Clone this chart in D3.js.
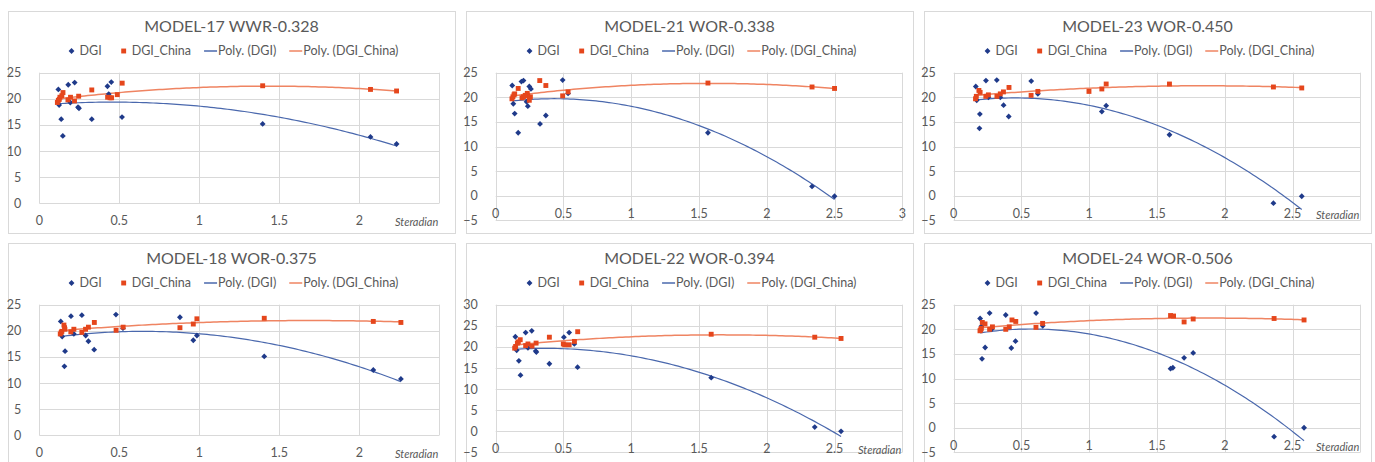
<!DOCTYPE html>
<html>
<head>
<meta charset="utf-8">
<script src="https://cdn.jsdelivr.net/npm/d3@7"></script>
<style>
  html, body { margin: 0; padding: 0; background: #fff; }
  svg { display: block; font-family: Lato, "Open Sans", sans-serif; }
</style>
</head>
<body>
<svg id="chart" width="1375" height="462"></svg>
<script>
// Daylight glare index against sky view (steradian), per model
const panelTitles = [
  "MODEL-17 WWR-0.328", "MODEL-21 WOR-0.338", "MODEL-23 WOR-0.450",
  "MODEL-18 WOR-0.375", "MODEL-22 WOR-0.394", "MODEL-24 WOR-0.506"
];
const xMaxes = [2.5, 3, 3, 2.5, 3, 3];
const yRanges = [[0, 25], [-5, 25], [-5, 25], [0, 25], [-5, 30], [-5, 25]];
const showAxisTitle = [true, false, true, true, true, true];
const seriesNames = ["DGI", "DGI_China", "Poly. (DGI)", "Poly. (DGI_China)"];
const axisTitle = "Steradian";

// [steradian, DGI]
const m17Dgi = [[0.119,21.8],[0.124,18.8],[0.137,16.1],[0.147,12.9],[0.181,22.7],[0.194,19.3],[0.221,23.1],[0.242,18.4],[0.248,18.2],[0.328,16.1],[0.426,22.4],[0.434,20.9],[0.45,23.2],[0.517,16.5],[1.396,15.2],[2.07,12.7],[2.233,11.35]];
const m17China = [[0.113,19.3],[0.119,19.7],[0.125,19.9],[0.129,20.3],[0.141,20.6],[0.148,21.2],[0.179,19.8],[0.195,20.3],[0.22,19.6],[0.246,20.5],[0.328,21.7],[0.427,20.3],[0.442,20.2],[0.452,20.2],[0.4875,20.8],[0.518,23.0],[1.396,22.5],[2.07,21.8],[2.233,21.5]];

const m21Dgi = [[0.122,22.4],[0.13,18.7],[0.14,16.7],[0.166,12.8],[0.19,23.2],[0.205,23.4],[0.228,19.1],[0.237,18.2],[0.248,22.2],[0.26,21.7],[0.327,14.6],[0.37,16.3],[0.494,23.5],[0.534,20.8],[1.566,12.8],[2.334,1.9],[2.5,-0.1]];
const m21China = [[0.12,19.7],[0.127,20.1],[0.135,20.5],[0.14,20.7],[0.166,21.8],[0.194,19.9],[0.205,20.1],[0.218,20.4],[0.233,20.8],[0.236,20.3],[0.248,19.4],[0.256,20.1],[0.325,23.4],[0.37,22.4],[0.494,20.3],[0.534,21.1],[1.566,22.9],[2.334,22.1],[2.5,21.8]];

const m23Dgi = [[0.163,22.2],[0.17,19.4],[0.193,16.6],[0.19,13.7],[0.238,23.4],[0.256,20.0],[0.318,23.5],[0.344,20.0],[0.368,18.4],[0.406,16.1],[0.572,23.3],[0.621,20.7],[1.093,17.1],[1.125,18.3],[1.592,12.4],[2.359,-1.5],[2.568,-0.1]];
const m23China = [[0.161,19.7],[0.167,20.2],[0.186,21.4],[0.195,21.0],[0.237,20.2],[0.256,20.5],[0.319,20.2],[0.344,20.7],[0.367,21.1],[0.408,22.0],[0.571,20.4],[0.621,21.2],[0.998,21.2],[1.093,21.7],[1.125,22.7],[1.592,22.7],[2.359,22.1],[2.568,21.9]];

const m18Dgi = [[0.134,21.8],[0.143,18.9],[0.161,16.1],[0.157,13.2],[0.198,22.8],[0.216,19.4],[0.266,23.0],[0.29,19.1],[0.307,18.0],[0.343,16.4],[0.479,23.1],[0.523,20.5],[0.879,22.6],[0.9625,18.2],[0.985,19.1],[1.406,15.1],[2.0875,12.5],[2.26,10.8]];
const m18China = [[0.131,19.4],[0.137,19.7],[0.141,19.9],[0.154,21.1],[0.158,20.6],[0.16,20.3],[0.197,19.8],[0.216,20.3],[0.266,19.7],[0.289,20.3],[0.307,20.7],[0.344,21.6],[0.48,20.1],[0.524,20.7],[0.879,20.6],[0.9625,21.3],[0.985,22.3],[1.406,22.4],[2.0875,21.8],[2.26,21.6]];

const m22Dgi = [[0.145,22.4],[0.155,19.2],[0.171,16.7],[0.183,13.3],[0.221,23.4],[0.238,19.8],[0.266,23.8],[0.295,19.0],[0.3,18.8],[0.396,16.0],[0.503,22.3],[0.542,23.4],[0.58,20.7],[0.604,15.2],[1.59,12.7],[2.354,1.0],[2.548,0.0]];
const m22China = [[0.14,19.7],[0.147,20.1],[0.16,20.9],[0.167,21.2],[0.181,21.7],[0.221,20.3],[0.238,20.7],[0.268,20.2],[0.298,20.9],[0.396,22.3],[0.499,20.7],[0.509,20.5],[0.542,20.5],[0.581,21.3],[0.605,23.6],[1.59,23.0],[2.354,22.3],[2.548,22.0]];

const m24Dgi = [[0.195,22.2],[0.204,20.6],[0.209,14.0],[0.232,16.3],[0.265,23.3],[0.28,20.0],[0.384,22.9],[0.425,16.2],[0.456,17.6],[0.608,23.3],[0.657,20.7],[1.6,12.0],[1.617,12.2],[1.7,14.2],[1.767,15.2],[2.364,-1.8],[2.585,0.0]];
const m24China = [[0.194,19.7],[0.199,19.9],[0.204,20.2],[0.211,21.4],[0.231,21.1],[0.265,20.0],[0.286,20.5],[0.384,20.0],[0.41,20.5],[0.43,21.9],[0.458,21.6],[0.607,20.4],[0.656,21.2],[1.6,22.8],[1.622,22.7],[1.7,21.5],[1.767,22.1],[2.364,22.2],[2.585,21.9]];

const dgiSets = [m17Dgi, m21Dgi, m23Dgi, m18Dgi, m22Dgi, m24Dgi];
const chinaSets = [m17China, m21China, m23China, m18China, m22China, m24China];

// Styling
const C = {
  text: "#595959",
  grid: "#d9d9d9",
  frame: "#d9d9d9",
  dgi: "#1f3a8a",
  china: "#e5461c",
  dgiTrend: "#4a68ad",
  chinaTrend: "#ef8462"
};

const svg = d3.select("#chart");
const colX = [8, 466, 924];
const rowY = [11, 243];
const frameW = 447;

// Least-squares second-order polynomial y = a + b x + c x^2
function quadFit(pts) {
  let n = pts.length, s1 = 0, s2 = 0, s3 = 0, s4 = 0, t0 = 0, t1 = 0, t2 = 0;
  for (const [x, y] of pts) {
    const x2 = x * x;
    s1 += x; s2 += x2; s3 += x2 * x; s4 += x2 * x2;
    t0 += y; t1 += x * y; t2 += x2 * y;
  }
  const A = [[n, s1, s2, t0], [s1, s2, s3, t1], [s2, s3, s4, t2]];
  for (let i = 0; i < 3; i++) {
    for (let k = i + 1; k < 3; k++) {
      const f = A[k][i] / A[i][i];
      for (let j = i; j < 4; j++) A[k][j] -= f * A[i][j];
    }
  }
  const r = [0, 0, 0];
  for (let i = 2; i >= 0; i--) {
    let s = A[i][3];
    for (let j = i + 1; j < 3; j++) s -= A[i][j] * r[j];
    r[i] = s / A[i][i];
  }
  return x => r[0] + r[1] * x + r[2] * x * x;
}

const fmt = d => d3.format("")(d).replace("-", "\u2212");

panelTitles.forEach((title, i) => {
  const col = i % 3, row = Math.floor(i / 3);
  const fx = colX[col], fy = rowY[row];
  const [yMin, yMax] = yRanges[i];
  const xMax = xMaxes[i];
  const g = svg.append("g");

  g.append("rect")
    .attr("x", fx + 0.5).attr("y", fy + 0.5)
    .attr("width", frameW).attr("height", row === 0 ? 222 : 240)
    .attr("fill", "#fff").attr("stroke", C.frame);

  const left = fx + (yMin < 0 ? 29.7 : 31.3);
  const width = xMax === 3 ? 406.6 : 400;
  const top = fy + 61.7;
  const bottom = fy + (yMin < 0 ? 209.4 : 192.3);

  const x = d3.scaleLinear().domain([0, xMax]).range([left, left + width]);
  const y = d3.scaleLinear().domain([yMin, yMax]).range([bottom, top]);

  const xTicks = d3.range(0, xMax + 0.001, 0.5);
  const yTicks = d3.range(yMin, yMax + 0.001, 5);

  // gridlines
  g.append("g").selectAll("line").data(yTicks).join("line")
    .attr("x1", left).attr("x2", left + width)
    .attr("y1", d => Math.round(y(d)) + 0.5).attr("y2", d => Math.round(y(d)) + 0.5)
    .attr("stroke", C.grid).attr("stroke-width", 1);
  g.append("g").selectAll("line").data(xTicks).join("line")
    .attr("x1", d => Math.round(x(d)) + 0.5).attr("x2", d => Math.round(x(d)) + 0.5)
    .attr("y1", top).attr("y2", bottom)
    .attr("stroke", C.grid).attr("stroke-width", 1);

  // y tick labels
  g.append("g").selectAll("text").data(yTicks).join("text")
    .attr("x", left - 18).attr("y", d => y(d) + 4.5)
    .attr("text-anchor", "end").attr("fill", C.text)
    .attr("font-size", 12.5).text(fmt);

  // x tick labels sit just under the zero line
  const labelTicks = showAxisTitle[i] ? xTicks.slice(0, -1) : xTicks;
  const xLabelY = y(0) + 22;
  g.append("g").selectAll("text").data(labelTicks).join("text")
    .attr("x", d => x(d)).attr("y", xLabelY)
    .attr("text-anchor", "middle").attr("fill", C.text)
    .attr("font-size", 12.5).text(fmt);

  if (showAxisTitle[i]) {
    g.append("text")
      .attr("x", left + width - 1).attr("y", xLabelY + 1)
      .attr("text-anchor", "end").attr("fill", C.text)
      .attr("font-size", 11).attr("font-style", "italic")
      .text(axisTitle);
  }

  // title
  g.append("text")
    .attr("x", fx + frameW / 2).attr("y", fy + 20.7)
    .attr("text-anchor", "middle").attr("fill", C.text)
    .attr("font-size", 16).text(title);

  // trendlines
  const dgi = dgiSets[i], china = chinaSets[i];
  const line = d3.line().x(d => x(d[0])).y(d => y(d[1]));
  [[dgi, C.dgiTrend, 1.2], [china, C.chinaTrend, 1.5]].forEach(([pts, color, w]) => {
    const f = quadFit(pts);
    const [x0, x1] = d3.extent(pts, d => d[0]);
    const samples = d3.range(0, 101).map(k => {
      const xv = x0 + (x1 - x0) * k / 100;
      return [xv, f(xv)];
    });
    g.append("path").datum(samples)
      .attr("d", line).attr("fill", "none")
      .attr("stroke", color).attr("stroke-width", w);
  });

  // markers
  const diamond = d3.symbol(d3.symbolSquare, 17)();
  const square = d3.symbol(d3.symbolSquare, 24)();
  g.append("g").selectAll("path").data(dgi).join("path")
    .attr("d", diamond)
    .attr("transform", d => `translate(${x(d[0])},${y(d[1])}) rotate(45)`)
    .attr("fill", C.dgi);
  g.append("g").selectAll("path").data(china).join("path")
    .attr("d", square)
    .attr("transform", d => `translate(${x(d[0])},${y(d[1])})`)
    .attr("fill", C.china);

  // legend, centred under the title
  const lg = g.append("g");
  const ly = fy + 44;
  let cx = 0;
  const kinds = ["diamond", "square", "line", "line"];
  const colors = [C.dgi, C.china, C.dgiTrend, C.chinaTrend];
  seriesNames.forEach((name, k) => {
    if (k > 0) cx += 13;
    if (kinds[k] === "line") {
      lg.append("line").attr("x1", cx).attr("x2", cx + 13)
        .attr("y1", ly - 4).attr("y2", ly - 4)
        .attr("stroke", colors[k]).attr("stroke-width", 1.5);
      cx += 14;
    } else {
      lg.append("path")
        .attr("d", kinds[k] === "diamond" ? diamond : square)
        .attr("transform", `translate(${cx + 9},${ly - 4})` + (kinds[k] === "diamond" ? " rotate(45)" : ""))
        .attr("fill", colors[k]);
      cx += 17;
    }
    const t = lg.append("text").attr("x", cx).attr("y", ly)
      .attr("fill", C.text).attr("font-size", 12.5).text(name);
    cx += t.node().getComputedTextLength();
  });
  lg.attr("transform", `translate(${fx + frameW / 2 - cx / 2 - 1},0)`);
});
</script>
</body>
</html>
